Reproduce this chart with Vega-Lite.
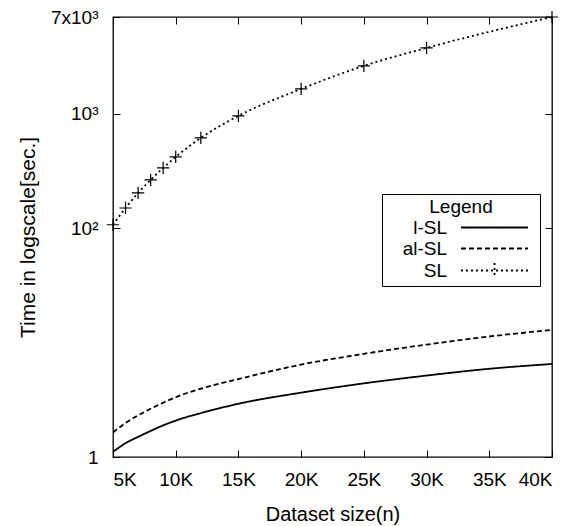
{
  "$schema": "https://vega.github.io/schema/vega-lite/v6.json",
  "autosize": {"type": "none"},
  "padding": {"left": 113, "top": 17, "right": 22, "bottom": 69},
  "width": 439,
  "height": 440,
  "background": "white",
  "config": {
    "font": "Liberation Sans",
    "view": {"stroke": "black", "strokeWidth": 1.3},
    "axis": {"grid": false, "domain": false, "tickColor": "black", "tickSize": -7, "tickWidth": 1, "labelColor": "black", "labelFontSize": 19, "titleFontSize": 20, "titleFontWeight": "normal", "titleColor": "black", "labelFont": "Liberation Sans", "titleFont": "Liberation Sans"}
  },
  "datasets": {
    "perf": [
      {"n": 5, "t": 1.11, "series": "l-SL"},
      {"n": 6, "t": 1.32, "series": "l-SL"},
      {"n": 7, "t": 1.5, "series": "l-SL"},
      {"n": 8, "t": 1.69, "series": "l-SL"},
      {"n": 9, "t": 1.89, "series": "l-SL"},
      {"n": 10, "t": 2.08, "series": "l-SL"},
      {"n": 12.5, "t": 2.5, "series": "l-SL"},
      {"n": 15, "t": 2.92, "series": "l-SL"},
      {"n": 20, "t": 3.65, "series": "l-SL"},
      {"n": 25, "t": 4.4, "series": "l-SL"},
      {"n": 30, "t": 5.15, "series": "l-SL"},
      {"n": 35, "t": 5.9, "series": "l-SL"},
      {"n": 40, "t": 6.5, "series": "l-SL"},
      {"n": 5, "t": 1.64, "series": "al-SL"},
      {"n": 6, "t": 1.98, "series": "al-SL"},
      {"n": 7, "t": 2.31, "series": "al-SL"},
      {"n": 8, "t": 2.64, "series": "al-SL"},
      {"n": 9, "t": 2.98, "series": "al-SL"},
      {"n": 10, "t": 3.33, "series": "al-SL"},
      {"n": 12.5, "t": 4.1, "series": "al-SL"},
      {"n": 15, "t": 4.8, "series": "al-SL"},
      {"n": 20, "t": 6.42, "series": "al-SL"},
      {"n": 25, "t": 7.98, "series": "al-SL"},
      {"n": 30, "t": 9.6, "series": "al-SL"},
      {"n": 35, "t": 11.3, "series": "al-SL"},
      {"n": 40, "t": 12.9, "series": "al-SL"},
      {"n": 5, "t": 107, "series": "SL"},
      {"n": 6, "t": 150, "series": "SL"},
      {"n": 7, "t": 203, "series": "SL"},
      {"n": 8, "t": 264, "series": "SL"},
      {"n": 9, "t": 336, "series": "SL"},
      {"n": 10, "t": 419, "series": "SL"},
      {"n": 12, "t": 614, "series": "SL"},
      {"n": 15, "t": 957, "series": "SL"},
      {"n": 20, "t": 1648, "series": "SL"},
      {"n": 25, "t": 2618, "series": "SL"},
      {"n": 30, "t": 3759, "series": "SL"},
      {"n": 40, "t": 7000, "series": "SL"}
    ]
  },
  "data": {"name": "perf"},
  "layer": [
    {
      "mark": {"type": "line", "stroke": "black", "interpolate": "monotone", "clip": true},
      "encoding": {
        "x": {"field": "n", "type": "quantitative", "title": "Dataset size(n)",
              "scale": {"domain": [5, 40], "nice": false, "zero": false},
              "axis": {"values": [5, 10, 15, 20, 25, 30, 35, 40], "labelExpr": "datum.value + 'K'", "labelPadding": 20, "titlePadding": 15}},
        "y": {"field": "t", "type": "quantitative", "title": "Time in logscale[sec.]",
              "scale": {"type": "log", "domain": [1, 7000], "nice": false},
              "axis": {"values": [1, 100, 1000, 7000], "labelExpr": "datum.value == 7000 ? '7x10³' : datum.value == 1000 ? '10³' : datum.value == 100 ? '10²' : '1'", "labelPadding": 22, "titlePadding": 12, "titleFontSize": 21}},
        "strokeDash": {"field": "series", "type": "nominal",
              "scale": {"domain": ["l-SL", "al-SL", "SL"], "range": [[1, 0], [5, 3], [2, 3]]},
              "legend": {
                "title": "Legend", "orient": "none", "legendX": 269, "legendY": 177,
                "strokeColor": "black", "padding": 4, "titleAnchor": "middle", "titleFontSize": 19, "titleFontWeight": "normal", "titleColor": "black", "titlePadding": 0,
                "labelFontSize": 19, "labelColor": "black", "symbolType": "M-3.53,0H3.53M3.9,0", "symbolSize": 361, "symbolStrokeColor": "black", "symbolStrokeWidth": 1.5,
                "labelAlign": "right", "labelOffset": -58, "symbolOffset": 98, "rowPadding": 0,
                "encode": {"symbols": {"update": {"shape": {"signal": "datum.label === 'SL' ? 'M-3.53,0H3.53M0,-0.79V0.79M3.9,0' : 'M-3.53,0H3.53M3.9,0'"}}}}
              }},
        "strokeWidth": {"field": "series", "type": "nominal", "scale": {"domain": ["l-SL", "al-SL", "SL"], "range": [1.8, 1.8, 1]}, "legend": null}
      }
    },
    {
      "transform": [{"filter": "datum.series === 'SL'"}],
      "mark": {"type": "point", "shape": "M-1,0H1M0,-1V1", "filled": false, "size": 150, "stroke": "black", "strokeWidth": 1.2, "opacity": 1},
      "encoding": {
        "x": {"field": "n", "type": "quantitative", "scale": {"domain": [5, 40], "nice": false, "zero": false},
              "axis": {"orient": "top", "values": [5, 10, 15, 20, 25, 30, 35, 40], "labels": false, "title": null}},
        "y": {"field": "t", "type": "quantitative", "scale": {"type": "log", "domain": [1, 7000], "nice": false},
              "axis": {"orient": "right", "values": [1, 100, 1000, 7000], "labels": false, "title": null}}
      }
    }
  ],
  "resolve": {"scale": {"x": "independent", "y": "independent"}, "axis": {"x": "independent", "y": "independent"}}
}
